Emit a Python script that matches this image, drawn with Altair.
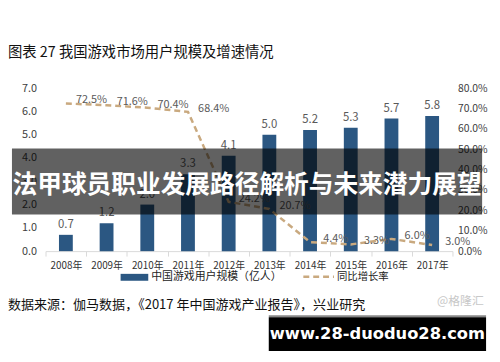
import altair as alt
import pandas as pd

# ---- data ----
years = ["2008年", "2009年", "2010年", "2011年", "2012年",
         "2013年", "2014年", "2015年", "2016年", "2017年"]
users = [0.7, 1.2, 2.0, 3.3, 4.1, 5.0, 5.2, 5.3, 5.7, 5.8]          # 亿人
growth_pct = [72.5, 71.6, 70.4, 68.4, 24.2, 20.7, 4.4, 3.3, 6.0, 3.0]  # %

left_ticks = [0, 1, 2, 3, 4, 5, 6, 7]
right_ticks = [0, 0.1, 0.2, 0.3, 0.4, 0.5, 0.6, 0.7, 0.8]

title_text = "图表 27 我国游戏市场用户规模及增速情况"
source_text = "数据来源：伽马数据，《2017 年中国游戏产业报告》，兴业研究"
legend_bar = "中国游戏用户规模（亿人）"
legend_line = "同比增长率"
banner_text = "法甲球员职业发展路径解析与未来潜力展望"
site_text = "www.28-duoduo28.com"
wm_text = "@格隆汇"

FONT = "Noto Sans CJK SC"
BAR = "#2b5782"
LINE = "#c9a97f"

df = pd.DataFrame({"year": years, "users": users,
                   "growth": [g / 100 for g in growth_pct]})

x_enc = alt.X("year:N", sort=years, title=None,
              scale=alt.Scale(paddingInner=0, paddingOuter=0),
              axis=alt.Axis(labelAngle=0, domainColor="#d9d9d9", tickColor="#d9d9d9",
                            tickBand="extent", tickSize=5, labelPadding=5,
                            labelFont=FONT, labelFontSize=10, labelColor="#333333"))

y_left = alt.Y("users:Q", title=None,
               scale=alt.Scale(domain=[0, 7], nice=False, zero=True),
               axis=alt.Axis(orient="left", values=left_ticks, format=".1f", grid=False,
                             domain=False, ticks=False, labelPadding=9,
                             labelFont=FONT, labelFontSize=11, labelColor="#404040"))

y_right = alt.Y("growth:Q", title=None,
                scale=alt.Scale(domain=[0, 0.8], nice=False, zero=True),
                axis=alt.Axis(orient="right", values=right_ticks, format=".1%", grid=False,
                              domain=False, ticks=False, labelPadding=5,
                              labelFont=FONT, labelFontSize=10.5, labelColor="#404040"))

base = alt.Chart(df).encode(x=x_enc)

bars = base.mark_bar(size=14, color=BAR).encode(y=y_left)
bar_labels = base.mark_text(baseline="alphabetic", dy=-7, font=FONT, fontSize=11.5,
                            color="#595959").encode(y=y_left, text=alt.Text("users:Q", format=".1f"))

line = base.mark_line(color=LINE, strokeWidth=2.5, strokeDash=[6, 4]).encode(y=y_right)
line_labels = base.mark_text(baseline="middle", align="center", dx=26, dy=-3, font=FONT,
                             fontSize=11, color="#595959").encode(
    y=y_right, text=alt.Text("growth:Q", format=".1%"))

main = alt.layer(alt.layer(bars, bar_labels),
                 alt.layer(line, line_labels)).resolve_scale(y="independent")

one = alt.Data(values=[{"k": 1}])
dec = alt.Chart(one)

title = dec.mark_text(align="left", baseline="middle", font=FONT, fontSize=14.5,
                      color="#111111").encode(x=alt.value(-38), y=alt.value(-36),
                                              text=alt.value(title_text))
source = dec.mark_text(align="left", baseline="middle", font=FONT, fontSize=13.2,
                       color="#111111").encode(x=alt.value(-38), y=alt.value(220),
                                               text=alt.value(source_text))

leg_sw = dec.mark_rect(color=BAR).encode(x=alt.value(76), x2=alt.value(104),
                                         y=alt.value(188), y2=alt.value(195))
leg_t1 = dec.mark_text(align="left", baseline="middle", font=FONT, fontSize=11,
                       color="#222222").encode(x=alt.value(107), y=alt.value(191),
                                               text=alt.value(legend_bar))
leg_ln = dec.mark_rule(color=LINE, strokeWidth=2.5, strokeDash=[6, 4]).encode(
    x=alt.value(261), x2=alt.value(292), y=alt.value(191))
leg_t2 = dec.mark_text(align="left", baseline="middle", font=FONT, fontSize=10.5,
                       color="#222222").encode(x=alt.value(295), y=alt.value(191),
                                               text=alt.value(legend_line))

banner = dec.mark_rect(color="#000000", opacity=0.62).encode(
    x=alt.value(-34), x2=alt.value(442), y=alt.value(61), y2=alt.value(128))
banner_t = dec.mark_text(align="center", baseline="middle", font=FONT, fontSize=25,
                         fontWeight="bold", color="#ffffff").encode(
    x=alt.value(204), y=alt.value(98), text=alt.value(banner_text))

wm = dec.mark_text(align="center", baseline="middle", font=FONT, fontSize=12,
                   color="#c8c8c8").encode(x=alt.value(420), y=alt.value(216),
                                           text=alt.value(wm_text))
site_box = dec.mark_rect(color="#000000").encode(
    x=alt.value(226), x2=alt.value(446), y=alt.value(232), y2=alt.value(266))
site_line = dec.mark_rect(color="#888888").encode(
    x=alt.value(226), x2=alt.value(446), y=alt.value(230), y2=alt.value(232))
site_t = dec.mark_text(align="center", baseline="middle", font="DejaVu Sans", fontSize=16.5,
                       fontWeight="bold", color="#ffffff").encode(
    x=alt.value(336), y=alt.value(249), text=alt.value(site_text))

chart = alt.layer(main, title, source, leg_sw, leg_t1, leg_ln, leg_t2,
                  banner, banner_t, wm, site_line, site_box, site_t).properties(
    width=412, height=165,
    autosize=alt.AutoSizeParams(type="none"),
    padding={"left": 38, "top": 79, "right": 40, "bottom": 102},
    background="#ffffff",
).configure_view(stroke=None)

chart.save("out.html", embed_options={"renderer": "svg", "actions": False})
